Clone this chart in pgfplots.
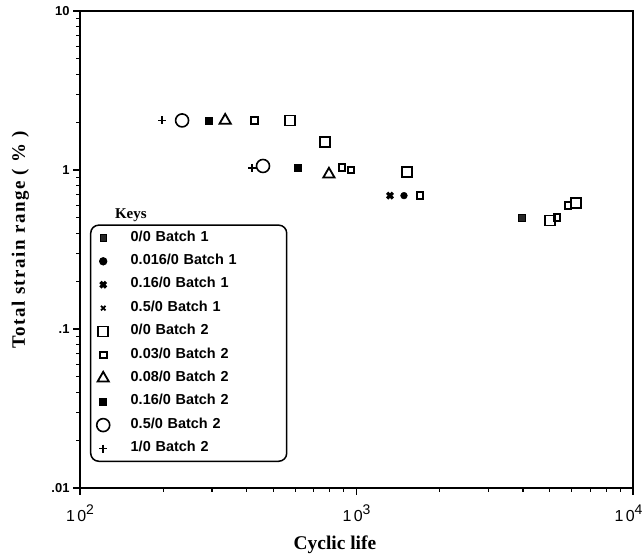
\documentclass[border=0pt]{standalone}
\usepackage{fontspec}
\setmainfont{Liberation Serif}
\newfontfamily\helv{Liberation Sans}
\usepackage{pgfplots}
\pgfplotsset{compat=1.18}
\begin{document}
\begin{tikzpicture}
\begin{axis}[
  scale only axis, width=553bp, height=477bp,
  xmode=log, ymode=log,
  xmin=100, xmax=10000, ymin=0.01, ymax=10,
  axis line style={line width=1.6bp},
  tick style={line width=1.2bp, black},
  major tick length=7bp, minor tick length=4bp,
  tick align=outside, xtick pos=bottom, ytick pos=left,
  xtick={100,1000,10000},
  xticklabels={{1\kern2.5bp 0\raisebox{7bp}{\fontsize{14}{14}\selectfont 2}},
               {1\kern2.5bp 0\raisebox{7bp}{\fontsize{14}{14}\selectfont 3}},
               {\hspace*{-9bp}1\kern2.5bp 0\raisebox{7bp}{\fontsize{14}{14}\selectfont 4}}},
  ytick={0.01,0.1,1,10}, yticklabels={.01,.1,1,10},
  xticklabel style={font=\helv\fontsize{16}{16}\selectfont, yshift=-6bp},
  yticklabel style={font=\helv\bfseries\fontsize{13}{13}\selectfont},
  xlabel={Cyclic life},
  ylabel={Total strain range ( \% )},
  xlabel style={font=\bfseries\fontsize{19.5}{21}\selectfont, at={(axis description cs:0.461,-0.1195)}, anchor=center},
  ylabel style={font=\bfseries\fontsize{19}{21}\selectfont\addfontfeature{LetterSpace=8}, at={(axis description cs:-0.108,0.52)}, anchor=center},
  legend cell align=left,
  legend style={at={(axis description cs:0.018,0.0545)}, anchor=south west,
    draw=black, line width=1.5bp, rounded corners=8bp, inner sep=6bp,
    font=\helv\bfseries\fontsize{14.5}{16}\selectfont,
    nodes={inner sep=0pt, text height=10bp, text depth=3.5bp},
    row sep=9.9bp, column sep=21bp,
    /tikz/every even column/.append style={text width=150bp}},
]
\addplot[only marks, mark=square*, mark size=3.3bp, mark options={line width=0.8bp, draw=black, fill=black!85, rounded corners=1bp}]
  coordinates {(3968,0.50)};
\addlegendentry{0/0 Batch 1}
\addplot[only marks, mark=*, mark size=3.4bp, mark options={fill=black}]
  coordinates {(1485,0.69)};
\addlegendentry{0.016/0 Batch 1}
\addplot[only marks, mark=x, mark size=4bp, mark options={line width=3.2bp}]
  coordinates {(1322,0.69)};
\addlegendentry{0.16/0 Batch 1}
\addlegendimage{only marks, mark=x, mark size=3.2bp, mark options={line width=1.8bp}}
\addlegendentry{0.5/0 Batch 1}
\addplot[only marks, mark=square, mark size=5bp, mark options={line width=1.6bp}]
  coordinates {(575,2.05) (769,1.5) (1523,0.97) (5010,0.48) (6220,0.62)};
\addlegendentry{0/0 Batch 2}
\addplot[only marks, mark=square, mark size=3.4bp, mark options={line width=2bp}]
  coordinates {(429,2.05) (886,1.04) (955,1.0) (1697,0.69) (5309,0.50) (5820,0.60)};
\addlegendentry{0.03/0 Batch 2}
\addplot[only marks, mark=triangle, mark size=6.5bp, mark options={line width=1.8bp}]
  coordinates {(335,2.05) (795,0.94)};
\addlegendentry{0.08/0 Batch 2}
\addplot[only marks, mark=square*, mark size=3.4bp, mark options={fill=black}]
  coordinates {(293,2.05) (614,1.03)};
\addlegendentry{0.16/0 Batch 2}
\addplot[only marks, mark=o, mark size=6.5bp, mark options={line width=1.6bp}]
  coordinates {(234,2.05) (459,1.06)};
\addlegendentry{0.5/0 Batch 2}
\addplot[only marks, mark=+, mark size=4bp, mark options={line width=1.6bp}]
  coordinates {(198,2.05) (419,1.03)};
\addlegendentry{1/0 Batch 2}
\node[font=\bfseries\fontsize{15}{16}\selectfont] at (axis description cs:0.092,0.5725) {Keys};
\end{axis}
\pgfresetboundingbox
\path[use as bounding box] (-80bp,-71bp) rectangle (564bp,488bp);
\end{tikzpicture}
\end{document}
